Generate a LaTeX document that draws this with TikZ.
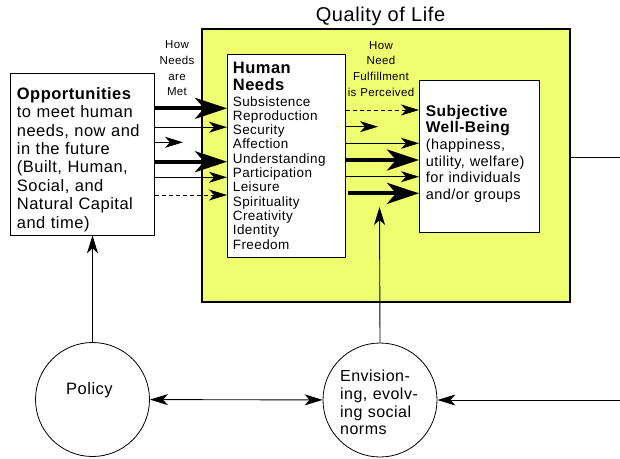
\documentclass[tikz,border=0pt]{standalone}
\usepackage{fontspec}
\setmainfont{Liberation Sans}[LetterSpace=3]
\usetikzlibrary{arrows.meta}
\definecolor{qolyellow}{RGB}{238,254,112}
\begin{document}
\begin{tikzpicture}[x=1pt,y=-1pt,
  box/.style={draw, fill=white, line width=0.8pt, inner sep=0pt},
  qolbox/.style={draw, fill=qolyellow, line width=2.4pt, inner sep=0pt},
  ring/.style={draw, circle, line width=0.8pt, inner sep=0pt, minimum size=114pt},
  thinarr/.style={line width=0.9pt, -{Stealth[length=18pt,width=11pt,inset=5pt]}},
  botharr/.style={line width=0.9pt, {Stealth[length=18pt,width=11pt,inset=5pt]}-{Stealth[length=18pt,width=11pt,inset=5pt]}},
  thickarr/.style={line width=4.2pt, -{Stealth[length=32pt,width=21pt,inset=9pt]}},
  dasharr/.style={thinarr, dash pattern=on 4pt off 3pt},
  plain/.style={line width=0.9pt},
  txt/.style={inner sep=0pt, align=left},
  small/.style={inner sep=0pt, align=center, text width=80pt, font=\fontsize{11.5}{15.8}\selectfont}
]
\useasboundingbox (0,0) rectangle (620,458);

% boxes
\node[qolbox, anchor=north west, minimum width=368pt, minimum height=273pt] (qol) at (200.5,27.5) {};
\node[box, anchor=north west, minimum width=144.5pt, minimum height=162pt] (opp) at (9.5,72.5) {};
\node[box, anchor=north west, minimum width=118pt, minimum height=203pt] (hn) at (227,54) {};
\node[box, anchor=north west, minimum width=120pt, minimum height=152pt] (swb) at (419,80) {};
\node[ring] (policy) at (92.5,399.5) {};
\node[ring] (env) at (380,400) {};

% texts
\node[anchor=base, inner sep=0pt, font=\fontsize{20}{20}\selectfont] (title) at (380.5,21) {Quality of Life};
\node[txt, anchor=base west, text width=135pt, font=\fontsize{16.5}{18.4}\selectfont] (opptxt) at (16.7,99.3)
  {\textbf{Opportunities}\\to meet human\\needs, now and\\in the future\\(Built, Human,\\Social, and\\Natural Capital\\and time)};
\node[txt, anchor=base west, text width=105pt, font=\fontsize{13.5}{14.3}\selectfont] (hntxt) at (232.7,73.3)
  {{\bfseries\fontsize{16.5}{17}\selectfont Human\\Needs\par}\vspace{1.4pt}Subsistence\\Reproduction\\Security\\Affection\\Understanding\\Participation\\Leisure\\Spirituality\\Creativity\\Identity\\Freedom};
\node[txt, anchor=base west, text width=110pt, font=\fontsize{14.5}{16.7}\selectfont] (swbtxt) at (425.7,116)
  {{\bfseries\fontsize{15.5}{16.7}\selectfont Subjective\\Well-Being\par}(happiness,\\utility, welfare)\\for individuals\\and/or groups};
\node[small, anchor=base] (lblmet) at (177,48.5) {How\\Needs\\are\\Met};
\node[small, anchor=base] (lblperc) at (381,49) {How\\Need\\Fulfillment\\is Perceived};
\node[txt, anchor=base west, font=\fontsize{16.5}{16.5}\selectfont] (poltxt) at (66,394) {Policy};
\node[txt, anchor=base west, text width=90pt, font=\fontsize{16}{17.7}\selectfont] (envtxt) at (340,381.7)
  {Envision-\\ing, evolv-\\ing social\\norms};

% free ends
\coordinate (tipA) at (183,142.3);
\coordinate (tipB) at (378,126.7);
\coordinate (tipC) at (379.5,207);
\coordinate (endR1) at (620,157);
\coordinate (endR2) at (620,400);

% opportunities -> human needs
\draw[thickarr] (opp.east |- 0,108.3) -- (hn.west |- 0,108.3);
\draw[thinarr] (opp.east |- 0,127.2) -- (hn.west |- 0,127.2);
\draw[thinarr] (opp.east |- tipA) -- (tipA);
\draw[thickarr] (opp.east |- 0,161.7) -- (hn.west |- 0,161.7);
\draw[thinarr] (opp.east |- 0,177.3) -- (hn.west |- 0,177.3);
\draw[dasharr] (opp.east |- 0,195) -- (hn.west |- 0,195);

% human needs -> subjective well-being
\draw[dasharr] (hn.east |- 0,110) -- (swb.west |- 0,110);
\draw[thinarr] (hn.east |- tipB) -- (tipB);
\draw[thinarr] (hn.east |- 0,143.3) -- (swb.west |- 0,143.3);
\draw[thickarr] (hn.east |- 0,160) -- (swb.west |- 0,160);
\draw[thinarr] (hn.east |- 0,176.7) -- (swb.west |- 0,176.7);
\draw[thickarr] ([xshift=2pt]hn.east |- 0,193.3) -- (swb.west |- 0,193.3);

% outside connectors
\draw[plain] (qol.east |- endR1) -- (endR1);
\draw[thinarr] (policy.north) -- (policy.north |- opp.south);
\draw[thinarr] (env.north) -- (tipC);
\draw[botharr] (policy) -- (env);
\draw[thinarr] (endR2) -- (env.east);
\end{tikzpicture}
\end{document}
